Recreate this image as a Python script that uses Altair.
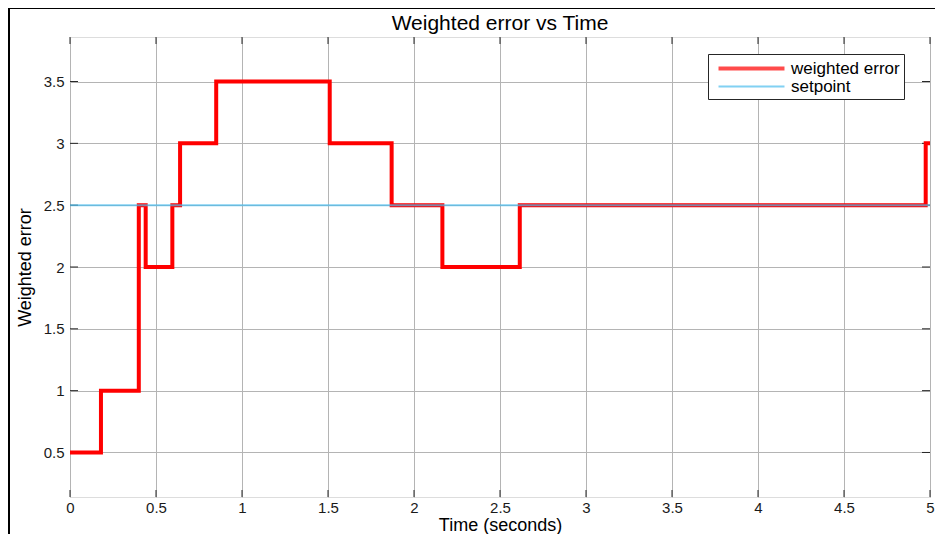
import altair as alt
import pandas as pd

# ---- data ----
err_t = [0.0, 0.18, 0.40, 0.44, 0.595, 0.64, 0.85, 1.51, 1.87, 2.165, 2.615, 4.975, 5.0]
err_v = [0.5, 1.0, 2.5, 2.0, 2.5, 3.0, 3.5, 3.0, 2.5, 2.0, 2.5, 3.0, 3.0]
sp_t = [0.0, 5.0]
sp_v = [2.5, 2.5]
series_names = ["weighted error", "setpoint"]
series_colors = ["#FF0000", "#4DBEEE"]
x_ticks = [0, 0.5, 1, 1.5, 2, 2.5, 3, 3.5, 4, 4.5, 5]
y_ticks = [0.5, 1, 1.5, 2, 2.5, 3, 3.5]
title_text = ["Weighted error vs Time"]

FONT = "Liberation Sans, Arial, Helvetica, sans-serif"
W, H = 860, 460

df_err = pd.DataFrame({"t": err_t, "v": err_v, "series": series_names[0]})
df_sp = pd.DataFrame({"t": sp_t, "v": sp_v, "series": series_names[1]})
df_xt = pd.DataFrame({"t": x_ticks})
df_yt = pd.DataFrame({"v": y_ticks})
df_title = pd.DataFrame({"label": title_text})

xscale = alt.Scale(domain=[0, 5], nice=False, zero=False)
yscale = alt.Scale(domain=[0.14, 3.86], nice=False, zero=False)

legend_props = dict(
    title=None,
    orient="none",
    legendX=638,
    legendY=17,
    symbolType="M-4,0H4",
    symbolSize=272,
    symbolOffset=29,
    labelFont=FONT,
    labelFontSize=17,
    labelColor="#000000",
    labelOffset=29,
    strokeColor="#262626",
    fillColor="#FFFFFF",
    padding=4,
    rowPadding=0,
    cornerRadius=0,
)

color = alt.Color(
    "series:N",
    scale=alt.Scale(domain=series_names, range=series_colors),
    sort=series_names,
    legend=alt.Legend(**legend_props),
)
sw = alt.StrokeWidth(
    "series:N",
    scale=alt.Scale(domain=series_names, range=[4, 2]),
    sort=series_names,
    legend=alt.Legend(**legend_props),
)

common_axis = dict(
    grid=True,
    gridColor="#b4b4b4",
    gridWidth=1,
    ticks=False,
    domain=False,
    format="~g",
    labelFont=FONT,
    labelFontSize=15,
    labelColor="#1a1a1a",
    labelFlush=False,
    titleFont=FONT,
    titleFontWeight="normal",
    titleColor="#000000",
)
xaxis = alt.Axis(
    title="Time (seconds)",
    values=x_ticks,
    labelPadding=3,
    titleFontSize=18,
    titleBaseline="alphabetic",
    titleY=33,
    **common_axis,
)
yaxis = alt.Axis(
    title="Weighted error",
    values=y_ticks,
    labelPadding=6,
    titleFontSize=18,
    titlePadding=9,
    **common_axis,
)

err = alt.Chart(df_err).mark_line(interpolate="step-after", strokeJoin="miter", strokeCap="butt").encode(
    x=alt.X("t:Q", scale=xscale, axis=xaxis),
    y=alt.Y("v:Q", scale=yscale, axis=yaxis),
    color=color,
    strokeWidth=sw,
)
sp = alt.Chart(df_sp).mark_line(opacity=0.7, strokeCap="butt").encode(
    x=alt.X("t:Q", scale=xscale),
    y=alt.Y("v:Q", scale=yscale),
    color=color,
    strokeWidth=sw,
)

# inward tick marks on all four sides (MATLAB style)
tick_col = "#262626"
xt_bottom = alt.Chart(df_xt).mark_rule(color=tick_col, strokeWidth=1).encode(
    x=alt.X("t:Q", scale=xscale), y=alt.value(H), y2=alt.value(H - 7))
xt_top = alt.Chart(df_xt).mark_rule(color=tick_col, strokeWidth=1).encode(
    x=alt.X("t:Q", scale=xscale), y=alt.value(0), y2=alt.value(7))
yt_left = alt.Chart(df_yt).mark_rule(color=tick_col, strokeWidth=1).encode(
    y=alt.Y("v:Q", scale=yscale), x=alt.value(0), x2=alt.value(8))
yt_right = alt.Chart(df_yt).mark_rule(color=tick_col, strokeWidth=1).encode(
    y=alt.Y("v:Q", scale=yscale), x=alt.value(W), x2=alt.value(W - 8))

# outer figure frame (top and left edges visible in the reference)
frame_top = alt.Chart(df_sp).mark_rule(color="#000000", strokeWidth=2, clip=False).encode(
    x=alt.value(-62), x2=alt.value(W + 5), y=alt.value(-29))
frame_left = alt.Chart(df_sp).mark_rule(color="#000000", strokeWidth=2, clip=False).encode(
    x=alt.value(-61), y=alt.value(-29), y2=alt.value(H + 37))

# chart title
title = alt.Chart(df_title).mark_text(
    font=FONT, fontSize=21, color="#000000", align="center", baseline="alphabetic", clip=False
).encode(text="label:N", x=alt.value(W / 2), y=alt.value(-7))

chart = alt.layer(
    xt_bottom, xt_top, yt_left, yt_right, err, sp, frame_top, frame_left, title
).resolve_scale(color="shared", strokeWidth="shared").properties(
    width=W,
    height=H,
    padding={"left": 62, "top": 29, "right": 5, "bottom": 37},
    autosize=alt.AutoSizeParams(type="none"),
).configure_view(
    stroke="#262626", strokeWidth=1
).configure(background="#FFFFFF")

chart.save("out.html", embed_options={"renderer": "svg", "actions": False})
